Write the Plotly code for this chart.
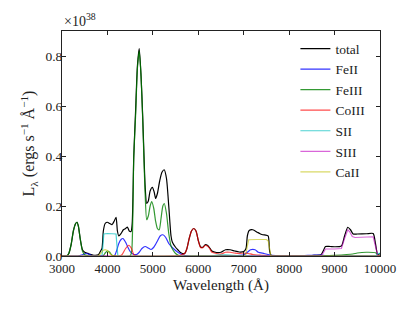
import plotly.graph_objects as go

# wavelength (Angstrom) / luminosity (1e38 ergs s^-1 A^-1)
total_x = [3000,3100,3150,3200,3250,3300,3330,3360,3400,3450,3500,3550,3600,3700,3800,3850,3880,3910,3950,4000,4050,4100,4150,4190,4220,4250,4300,4350,4400,4440,4480,4520,4545,4580,4620,4660,4700,4740,4776,4805,4830,4864,4900,4940,4990,5030,5062,5100,5150,5200,5250,5300,5350,5400,5430,5500,5550,5600,5650,5700,5750,5800,5850,5900,5950,6000,6050,6100,6150,6200,6250,6300,6400,6500,6600,6700,6800,6900,7000,7050,7080,7120,7200,7300,7350,7400,7500,7540,7570,7600,7800,8300,8500,8700,8750,8800,8900,9000,9150,9220,9290,9350,9410,9500,9700,9850,9900,9950,10000]
total_y = [0,0,0.01,0.045,0.1,0.13,0.135,0.12,0.07,0.025,0.015,0.012,0.008,0.003,0.005,0.02,0.03,0.1,0.13,0.135,0.13,0.125,0.14,0.155,0.1,0.08,0.09,0.105,0.11,0.116,0.1,0.098,0.13,0.4,0.58,0.76,0.83,0.72,0.56,0.4,0.28,0.21,0.22,0.26,0.275,0.255,0.23,0.25,0.3,0.335,0.345,0.31,0.2,0.08,0.055,0.035,0.025,0.015,0.01,0.01,0.03,0.07,0.1,0.11,0.1,0.062,0.036,0.035,0.045,0.043,0.033,0.02,0.014,0.015,0.025,0.025,0.02,0.016,0.018,0.03,0.08,0.102,0.105,0.095,0.09,0.086,0.083,0.08,0.02,0.003,0,0,0.002,0.005,0.02,0.038,0.038,0.037,0.04,0.08,0.115,0.105,0.088,0.088,0.089,0.09,0.05,0.005,0.01]

feii_x = [3000,3350,3450,3520,3580,3650,3800,4150,4200,4250,4300,4340,4400,4450,4500,4560,4640,4700,4760,4830,4900,4960,5020,5100,5160,5220,5280,5350,5450,5550,5650,5800,6500,7000,7080,7150,7250,7320,7450,7560,7700,8200,8500,8700,8800,9000,10000]
feii_y = [0,0,0.005,0.01,0.008,0.002,0,0,0.02,0.05,0.066,0.07,0.055,0.035,0.018,0.008,0.006,0.015,0.03,0.038,0.032,0.026,0.035,0.06,0.08,0.085,0.075,0.05,0.03,0.015,0.005,0,0,0.005,0.015,0.025,0.025,0.015,0.01,0.005,0.002,0.001,0.003,0.004,0.002,0.001,0]

feiii_x = [3000,3100,3150,3200,3250,3300,3330,3360,3400,3450,3500,3600,3900,3950,4000,4050,4100,4200,4500,4535,4580,4620,4660,4700,4740,4776,4805,4830,4864,4900,4940,4975,5020,5060,5100,5140,5180,5220,5252,5300,5350,5400,5450,5500,5600,6000,8500,9000,9400,9500,9700,9900,9950,10000]
feiii_y = [0,0,0.01,0.045,0.1,0.13,0.135,0.12,0.07,0.02,0.005,0,0,0.012,0.02,0.015,0.003,0,0,0.02,0.4,0.56,0.75,0.82,0.72,0.55,0.38,0.25,0.145,0.16,0.2,0.218,0.19,0.14,0.11,0.105,0.15,0.2,0.21,0.17,0.09,0.04,0.022,0.01,0,0,0,0.003,0.008,0.012,0.015,0.013,0.005,0]

coiii_x = [3000,4250,4320,4400,4470,4530,4580,4650,5400,5600,5700,5750,5800,5850,5900,5950,6000,6050,6100,6150,6200,6250,6300,6400,6500,6600,6700,6800,6900,7000,7100,7200,7400,7600,10000]
coiii_y = [0,0,0.005,0.03,0.043,0.03,0.005,0,0,0.003,0.01,0.03,0.07,0.1,0.11,0.1,0.062,0.034,0.033,0.042,0.04,0.03,0.015,0.01,0.008,0.015,0.015,0.012,0.01,0.012,0.01,0.006,0.003,0,0]

sii_x = [3000,3880,3900,3920,4000,4100,4190,4210,4230,6300,6400,6600,6800,7000,9900,9950,10000]
sii_y = [0,0,0.04,0.088,0.09,0.09,0.088,0.04,0,0,0.004,0.005,0.002,0,0,0.008,0.012]

siii_x = [3000,8700,8760,8800,9000,9150,9220,9290,9330,9390,9450,9600,9850,9900,9950,10000]
siii_y = [0,0,0.015,0.028,0.028,0.03,0.07,0.105,0.098,0.078,0.074,0.074,0.077,0.04,0.002,0]

caii_x = [3000,3800,3850,3900,3950,4000,4050,4100,4200,7040,7080,7110,7300,7500,7540,7570,7600,10000]
caii_y = [0,0,0.01,0.022,0.025,0.022,0.01,0.002,0,0,0.04,0.065,0.066,0.066,0.06,0.02,0,0]

x_ticks = [3000,4000,5000,6000,7000,8000,9000,10000]
y_ticks = [0.0,0.2,0.4,0.6,0.8]

series = [
    ("total", total_x, total_y, "black", "spline"),
    ("FeII", feii_x, feii_y, "rgba(0,0,255,0.8)", "spline"),
    ("FeIII", feiii_x, feiii_y, "rgba(0,128,0,0.8)", "spline"),
    ("CoIII", coiii_x, coiii_y, "rgba(255,0,0,0.7)", "spline"),
    ("SII", sii_x, sii_y, "rgba(0,191,191,0.7)", "linear"),
    ("SIII", siii_x, siii_y, "rgba(191,0,191,0.6)", "linear"),
    ("CaII", caii_x, caii_y, "rgba(191,191,0,0.6)", "linear"),
]

fig = go.Figure()
for name, xs, ys, col, shp in series:
    line = dict(color=col, width=1.2, shape=shp)
    if shp == "spline":
        line["smoothing"] = 0.6
    fig.add_trace(go.Scatter(x=xs, y=ys, mode="lines", name=name, line=line))

font = "Liberation Serif"
fig.update_layout(
    width=415, height=312,
    margin=dict(l=54, r=43, t=23, b=63.5, autoexpand=False),
    paper_bgcolor="white", plot_bgcolor="white",
    font=dict(family=font, size=13, color="#222"),
    showlegend=True,
    legend=dict(x=0.734, y=0.99, xanchor="left", yanchor="top",
                bgcolor="rgba(0,0,0,0)", font=dict(size=13.5, family=font),
                tracegroupgap=0, itemwidth=30),
    xaxis=dict(range=[3000, 10000], tickvals=x_ticks, ticktext=[str(v) for v in x_ticks],
               automargin=False,
               ticks="inside", ticklen=4, tickcolor="#222", showline=True, linecolor="#222",
               linewidth=1, mirror="ticks", showgrid=False, zeroline=False,
               title=dict(text="Wavelength (Å)", font=dict(size=15, family=font), standoff=4),
               tickfont=dict(size=13, family=font)),
    yaxis=dict(range=[0, 0.9], tickvals=y_ticks, ticktext=["%.1f" % v for v in y_ticks],
               automargin=False, ticklabelstandoff=-4,
               ticks="inside", ticklen=4, tickcolor="#222", showline=True, linecolor="#222",
               linewidth=1, mirror="ticks", showgrid=False, zeroline=False,
               title=dict(text="L<sub>λ</sub> (ergs s<sup>−1</sup> Å<sup>−1</sup>)",
                          font=dict(size=16, family=font), standoff=6),
               tickfont=dict(size=13.5, family=font)),
)
fig.add_annotation(xref="paper", yref="paper", x=0, y=1, xanchor="left", yanchor="bottom",
                   text="×10<sup>38</sup>", showarrow=False, font=dict(size=14, family=font),
                   yshift=0)
fig.write_html("out.html")
